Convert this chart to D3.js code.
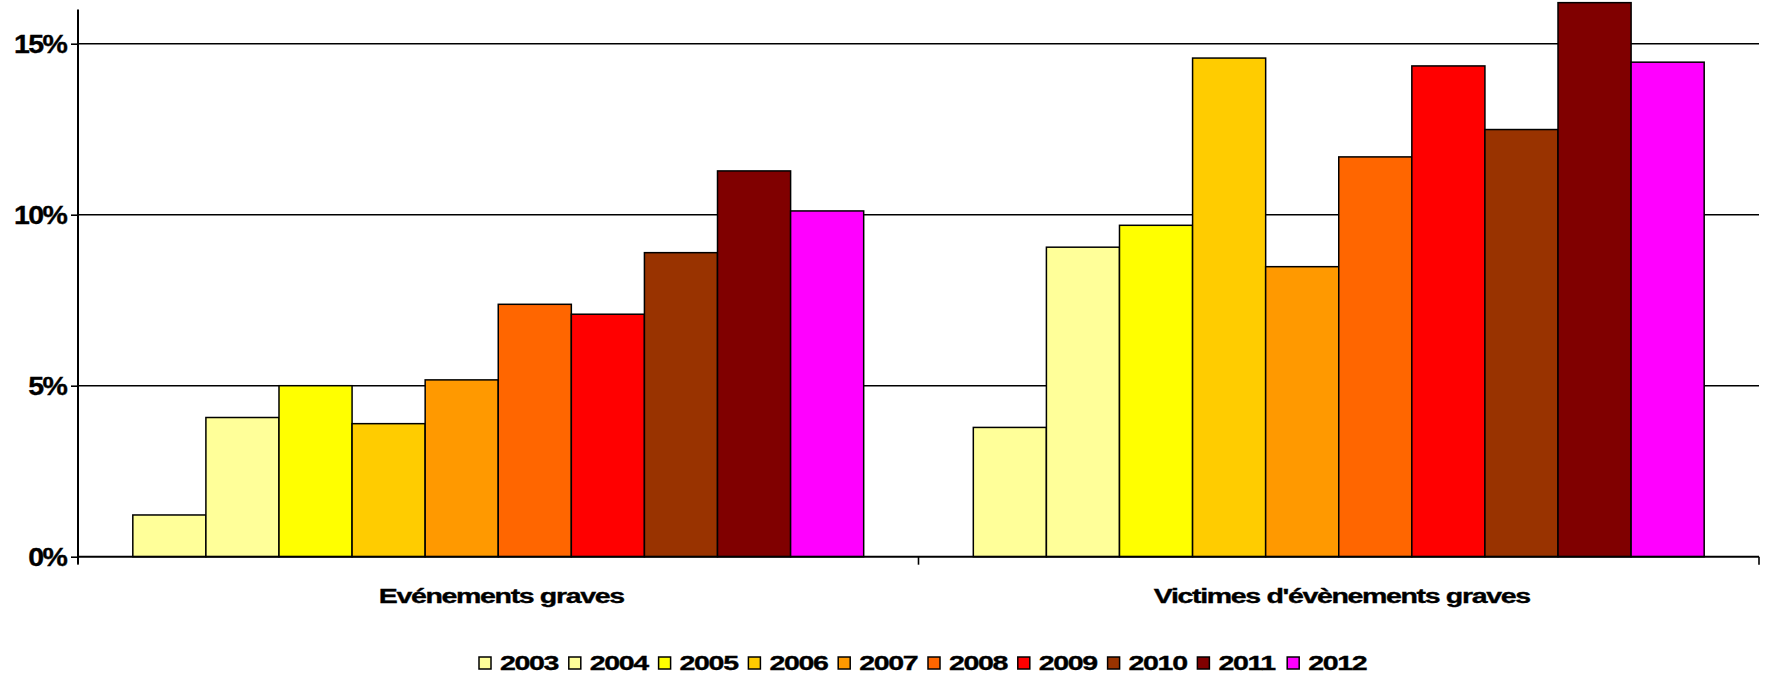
<!DOCTYPE html>
<html>
<head>
<meta charset="utf-8">
<script src="https://cdn.jsdelivr.net/npm/d3@7"></script>
<style>
  html, body { margin: 0; padding: 0; background: #fff; }
  svg { display: block; }
  text { font-family: "Liberation Sans", Arial, sans-serif; font-weight: bold; fill: #000; stroke: #000; stroke-width: 0.35px; }
</style>
</head>
<body>
<svg id="chart" width="1766" height="677"></svg>
<script>
// Categories (x axis groups)
const categories = ["Evénements graves", "Victimes d'évènements graves"];
// Series (one per year)
const years = ["2003", "2004", "2005", "2006", "2007", "2008", "2009", "2010", "2011", "2012"];
// Share in % per year, for each category
const evenementsGraves = [1.22, 4.07, 5.0, 3.89, 5.17, 7.38, 7.09, 8.89, 11.28, 10.11];
const victimesGraves   = [3.78, 9.05, 9.69, 14.58, 8.48, 11.69, 14.35, 12.49, 16.2, 14.46];
// Y axis ticks
const yTicks = [0, 5, 10, 15];
const yMax = 16;
// Year colours
const yearColors = ["#FFFF99", "#FFFF99", "#FFFF00", "#FFCC00", "#FF9900", "#FF6600", "#FF0000", "#993300", "#800000", "#FF00FF"];

const seriesByCategory = [evenementsGraves, victimesGraves];

const svg = d3.select("#chart");
const plot = { left: 78, right: 1759, top: 9.5, bottom: 556.7 };

const x0 = d3.scaleBand().domain(categories).range([plot.left, plot.right]).paddingInner(0).paddingOuter(0);
const x1 = d3.scaleBand().domain(years).range([0, x0.bandwidth()]).paddingInner(0).paddingOuter(0.75);
const y = d3.scaleLinear().domain([0, yMax]).range([plot.bottom, plot.top]);
const color = d3.scaleOrdinal().domain(years).range(yearColors);

// Horizontal gridlines
svg.append("g")
  .selectAll("line")
  .data(yTicks.filter(t => t > 0))
  .join("line")
  .attr("x1", plot.left).attr("x2", plot.right)
  .attr("y1", d => y(d)).attr("y2", d => y(d))
  .attr("stroke", "#000").attr("stroke-width", 1.6);

// Bars
const groups = svg.append("g")
  .selectAll("g")
  .data(categories.map((c, i) => ({ cat: c, values: seriesByCategory[i] })))
  .join("g")
  .attr("transform", d => `translate(${x0(d.cat)},0)`);

groups.selectAll("rect")
  .data(d => d.values.map((v, j) => ({ year: years[j], value: v })))
  .join("rect")
  .attr("x", d => x1(d.year))
  .attr("width", x1.bandwidth())
  .attr("y", d => y(d.value))
  .attr("height", d => y(0) - y(d.value))
  .attr("fill", d => color(d.year))
  .attr("stroke", "#000")
  .attr("stroke-width", 1.5);

// Y axis
const yAxis = d3.axisLeft(y).tickValues(yTicks).tickSize(7).tickPadding(5).tickFormat(d => d + "%");
const yG = svg.append("g").attr("transform", `translate(${plot.left},0)`).call(yAxis);
yG.select(".domain").remove();
yG.selectAll(".tick line").attr("stroke", "#000").attr("stroke-width", 1.6);
yG.selectAll(".tick text")
  .attr("font-size", 25)
  .attr("letter-spacing", -1.5)
  .attr("dy", "0.35em")
  .attr("transform", function () {
    const tx = +d3.select(this).attr("x");
    return `translate(${tx},0) scale(1.14,1) translate(${-tx},0)`;
  });
yG.append("line")
  .attr("x1", 0).attr("x2", 0)
  .attr("y1", plot.top).attr("y2", plot.bottom + 7)
  .attr("stroke", "#000").attr("stroke-width", 2);

// X axis baseline and category separators
svg.append("line")
  .attr("x1", plot.left).attr("x2", plot.right)
  .attr("y1", y(0)).attr("y2", y(0))
  .attr("stroke", "#000").attr("stroke-width", 2);
const sepX = [plot.left, ...categories.slice(1).map(c => x0(c)), plot.right];
svg.append("g").selectAll("line")
  .data(sepX)
  .join("line")
  .attr("x1", d => d).attr("x2", d => d)
  .attr("y1", y(0)).attr("y2", y(0) + 8)
  .attr("stroke", "#000").attr("stroke-width", 1.6);

// Category labels
const stretch = 1.36;
svg.append("g").selectAll("g")
  .data(categories)
  .join("g")
  .attr("transform", d => `translate(${x0(d) + x0.bandwidth() / 2 + 3},603) scale(${stretch},1)`)
  .append("text")
  .attr("text-anchor", "middle")
  .attr("font-size", 21)
  .attr("letter-spacing", -1)
  .text(d => d);

// Legend
const legendX = 479, legendStep = 89.8, legendY = 657;
const legend = svg.append("g").selectAll("g")
  .data(years)
  .join("g")
  .attr("transform", (d, i) => `translate(${legendX + i * legendStep},${legendY})`);
legend.append("rect")
  .attr("width", 12).attr("height", 12)
  .attr("fill", d => color(d))
  .attr("stroke", "#000").attr("stroke-width", 1.5);
legend.append("g")
  .attr("transform", `translate(21,12.5) scale(1.36,1)`)
  .append("text")
  .attr("font-size", 21)
  .attr("letter-spacing", -1)
  .text(d => d);
</script>
</body>
</html>
